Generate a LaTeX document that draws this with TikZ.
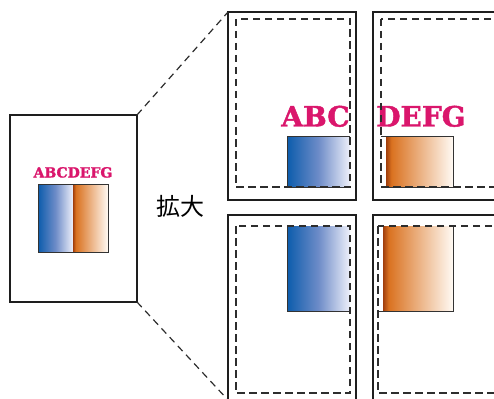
\documentclass[tikz,border=0pt]{standalone}
\usepackage{fontspec}
\newfontfamily\cjk{Noto Sans CJK JP}
\newfontfamily\slab[FakeBold=1.6]{DejaVu Serif Bold}
\definecolor{pagec}{RGB}{30,30,30}
\definecolor{dashc}{RGB}{45,45,45}
\definecolor{magc}{RGB}{218,22,108}
\definecolor{bdark}{RGB}{12,92,172}
\definecolor{bmid}{RGB}{110,140,200}
\definecolor{blight}{RGB}{238,240,250}
\definecolor{obrown}{RGB}{160,62,12}
\definecolor{oorange}{RGB}{218,114,32}
\definecolor{olight}{RGB}{255,250,244}
\pgfdeclarehorizontalshading{bluegrad}{100bp}{color(0bp)=(bdark); color(25bp)=(bdark); color(50bp)=(bmid); color(75bp)=(blight); color(100bp)=(blight)}
\pgfdeclarehorizontalshading{orangegrad}{100bp}{color(0bp)=(obrown); color(25bp)=(obrown); color(29bp)=(oorange); color(75bp)=(olight); color(100bp)=(olight)}
\tikzset{
  pagebox/.style={draw=pagec, line width=2.6pt, fill=white},
  safebox/.style={draw=dashc, line width=1.3pt, dash pattern=on 7.5pt off 4.5pt},
  zoomline/.style={draw=dashc, line width=1.2pt, dash pattern=on 7pt off 5pt},
  bluebox/.style={shading=bluegrad},
  orangebox/.style={shading=orangegrad},
  gradframe/.style={draw=black!80, line width=1pt},
  bigtxt/.style={text=magc, font=\slab\fontsize{28}{28}\selectfont, inner sep=0pt, anchor=base},
  smalltxt/.style={text=magc, font=\slab\fontsize{14}{14}\selectfont, inner sep=0pt, anchor=base},
}
\begin{document}
\begin{tikzpicture}[x=1pt,y=-1pt]
\useasboundingbox (0,0) rectangle (494,398);
\clip (0,0) rectangle (494,398);
\fill[white] (0,0) rectangle (494,398);

% left page
\draw[pagebox] (10,115) rectangle (137,302);
\coordinate (lp-ne) at (137,115);
\coordinate (lp-se) at (137,302);
\node[smalltxt] (small) at (73,177.5) {ABCDEFG};
\shade[bluebox] (38,184) rectangle (73,252);
\shade[orangebox] (73,184) rectangle (108,252);
\draw[gradframe] (38,184) rectangle (108,252);

% label
\node[font=\cjk\fontsize{24}{24}\selectfont, inner sep=0pt] (zoomlabel) at (180,206) {拡大};

% enlarged pages
\draw[pagebox] (228,12) rectangle (356,200);
\draw[pagebox] (373,12) rectangle (501,200);
\draw[pagebox] (228,215) rectangle (356,403);
\draw[pagebox] (373,215) rectangle (501,403);
\coordinate (tl-nw) at (228,12);
\coordinate (bl-sw) at (228,400);

% connectors
\draw[zoomline] (lp-ne) -- (tl-nw);
\draw[zoomline] (lp-se) -- (bl-sw);

% top row content
\shade[bluebox] (287,137) rectangle (350,187);
\draw[gradframe] (350,187) -- (287,187) -- (287,137) -- (350,137);
\shade[orangebox] (386,137) rectangle (453,187);
\draw[gradframe] (381,137) -- (453,137) -- (453,187) -- (386,187);
\node[bigtxt] (abc) at (315.5,126.5) {ABC};
\node[bigtxt] (defg) at (421,126.5) {DEFG};

% bottom row content
\shade[bluebox] (287,226) rectangle (350,311);
\draw[gradframe] (350,311) -- (287,311) -- (287,226);
\shade[orangebox] (383,226) rectangle (453,311);
\draw[gradframe] (378,311) -- (453,311) -- (453,226);

% safe areas
\draw[safebox] (236,19) rectangle (350,187);
\draw[safebox] (381,19) rectangle (520,187);
\draw[safebox] (236,226) rectangle (350,393);
\draw[safebox] (378,226) rectangle (520,393);
\end{tikzpicture}
\end{document}
